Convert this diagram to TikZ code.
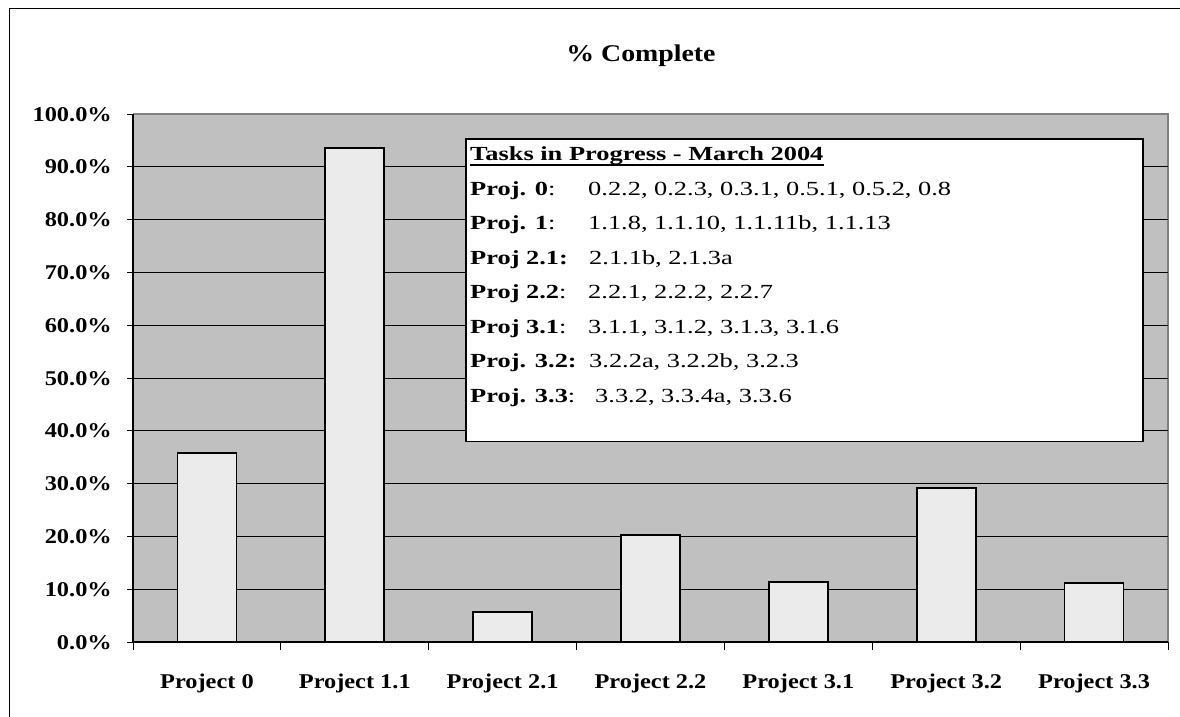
\documentclass[tikz,border=0pt]{standalone}
\usepackage{fontspec}
\setmainfont{Liberation Serif}
\newfontfamily\axisfont{Liberation Serif}[FakeStretch=1.16]
\newfontfamily\boxfont{Liberation Serif}[FakeStretch=1.32]
\definecolor{plotgray}{HTML}{C0C0C0}
\definecolor{bargray}{HTML}{EBEBEB}
\definecolor{framegray}{HTML}{808080}
\tikzset{
  grid line/.style={black, line width=0.9pt},
  bar/.style={fill=bargray, draw=black, line width=1.8pt},
  ylab/.style={anchor=base east, inner sep=0pt, font=\axisfont\fontsize{21}{24}\selectfont\bfseries},
  xlab/.style={anchor=base, inner sep=0pt, font=\axisfont\fontsize{21}{24}\selectfont\bfseries},
  tasktext/.style={anchor=base west, inner sep=0pt, font=\boxfont\fontsize{20}{24}\selectfont},
  legendbox/.style={fill=white, draw=black, line width=1.8pt},
}
\begin{document}
\begin{tikzpicture}[x=1pt,y=-1pt]
\useasboundingbox (0,0) rectangle (1180,717);
\fill[white] (0,0) rectangle (1180,717);
% outer chart frame (cropped at right and bottom)
\draw[black, line width=1pt] (9,717) -- (9,9) -- (1180,9);
% title
\node[anchor=base, inner sep=0pt, font=\axisfont\fontsize{24}{28}\selectfont\bfseries] (title) at (641,62) {\% Complete};
% plot area
\fill[plotgray] (133,114) rectangle (1168,642);
\draw[framegray, line width=1.2pt] (133,114) -- (1168,114) -- (1168,642);
% gridlines
\foreach \v in {1,...,9} {
  \draw[grid line] (133,{642-52.8*\v}) -- (1168,{642-52.8*\v});
}
% y ticks and labels
\foreach \v/\lab in {0/0.0,1/10.0,2/20.0,3/30.0,4/40.0,5/50.0,6/60.0,7/70.0,8/80.0,9/90.0,10/100.0} {
  \draw[black, line width=0.9pt] (127,{642-52.8*\v}) -- (133,{642-52.8*\v});
  \node[ylab] (yl\v) at (112,{642-52.8*\v+7}) {\lab\%};
}
% bars
\foreach \i/\val in {0/35.8,1/93.6,2/5.7,3/20.2,4/11.4,5/29.1,6/11.2} {
  \pgfmathsetmacro{\cx}{133+147.857*(\i+0.5)}
  \draw[bar] ({\cx-29.5},642) rectangle ({\cx+29.5},{642-5.28*\val});
}
% axes
\draw[black, line width=1.2pt] (133,114) -- (133,642) -- (1168,642);
\foreach \i in {0,...,7} {
  \draw[black, line width=0.9pt] ({133+147.857*\i},642) -- ({133+147.857*\i},650);
}
% x labels
\foreach \i/\lab in {0/Project 0,1/Project 1.1,2/Project 2.1,3/Project 2.2,4/Project 3.1,5/Project 3.2,6/Project 3.3} {
  \node[xlab] (xl\i) at ({133+147.857*(\i+0.5)},688) {\lab};
}
% legend text box
\draw[legendbox] (466,139) rectangle (1143,441.5);
\node[tasktext, font=\boxfont\fontsize{20}{24}\selectfont\bfseries] (ttl) at (470,160) {Tasks in Progress - March 2004};
\draw[black, line width=1.6pt] ([yshift=-5pt]ttl.base west) -- ([yshift=-5pt]ttl.base east);
\node[tasktext] (l0) at (470,195) {\textbf{Proj. 0}:};
\node[tasktext] (v0) at (588,195) {0.2.2, 0.2.3, 0.3.1, 0.5.1, 0.5.2, 0.8};
\node[tasktext] (l1) at (470,229.5) {\textbf{Proj. 1}:};
\node[tasktext] (v1) at (588,229.5) {1.1.8, 1.1.10, 1.1.11b, 1.1.13};
\node[tasktext] (l2) at (470,264) {\textbf{Proj 2.1:}};
\node[tasktext] (v2) at (589,264) {2.1.1b, 2.1.3a};
\node[tasktext] (l3) at (470,298.5) {\textbf{Proj 2.2}:};
\node[tasktext] (v3) at (588,298.5) {2.2.1, 2.2.2, 2.2.7};
\node[tasktext] (l4) at (470,333) {\textbf{Proj 3.1}:};
\node[tasktext] (v4) at (588,333) {3.1.1, 3.1.2, 3.1.3, 3.1.6};
\node[tasktext] (l5) at (470,367.5) {\textbf{Proj. 3.2:}};
\node[tasktext] (v5) at (589,367.5) {3.2.2a, 3.2.2b, 3.2.3};
\node[tasktext] (l6) at (470,402) {\textbf{Proj. 3.3}:};
\node[tasktext] (v6) at (595,402) {3.3.2, 3.3.4a, 3.3.6};
\end{tikzpicture}
\end{document}
